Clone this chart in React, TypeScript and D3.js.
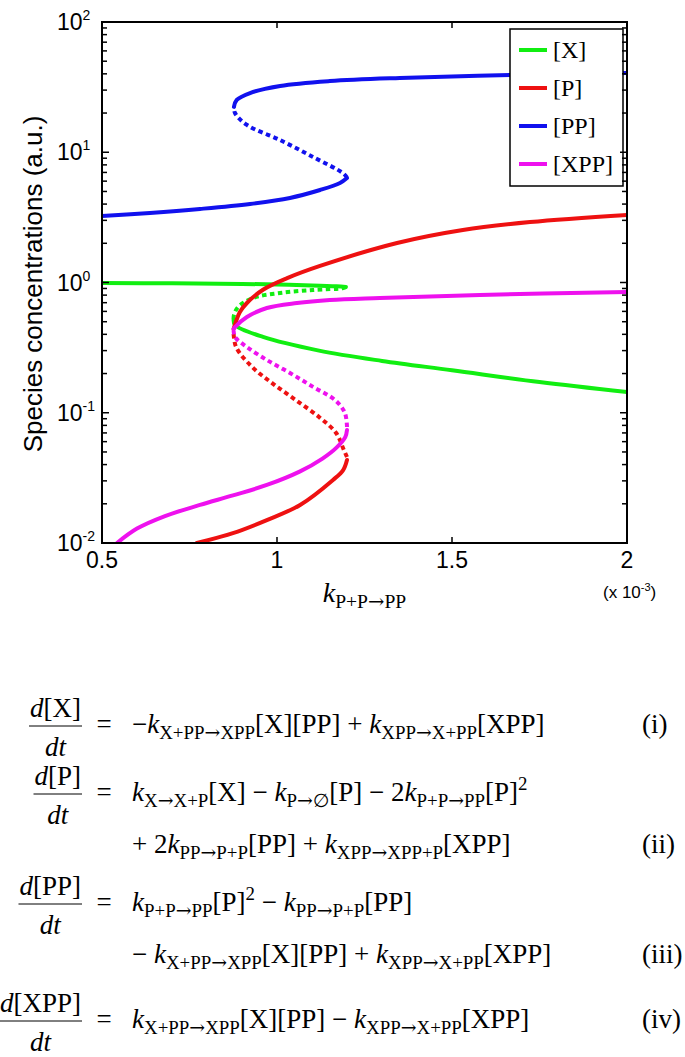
import React, { useEffect, useRef } from "react";
import * as d3 from "d3";

// steady states of the X / P / PP / XPP model vs k_{P+P->PP} (x 10^-3)
const kTicks = [0.5, 1, 1.5, 2];
const kTickLabels = ["0.5", "1", "1.5", "2"];
const decades = [-2, -1, 0, 1, 2];

// [X]  (k, concentration)
const xHigh = [[0.5, 0.99], [0.7, 0.985], [0.9, 0.975], [1.0, 0.965], [1.1, 0.95], [1.17, 0.935], [1.197, 0.925]];
const xMid = [[1.197, 0.925], [1.189, 0.907], [1.103, 0.876], [1.009, 0.831], [0.931, 0.76], [0.889, 0.649], [0.877, 0.563], [0.876, 0.52]];
const xLow = [[0.876, 0.52], [0.88, 0.472], [0.96, 0.382], [1.12, 0.3], [1.3, 0.25], [1.5, 0.212], [1.75, 0.172], [2.0, 0.144]];

// [P]
const pLow = [[0.771, 0.01], [0.874, 0.0119], [0.971, 0.015], [1.066, 0.0196], [1.16, 0.0305], [1.189, 0.0363], [1.2, 0.0434]];
const pMid = [[1.2, 0.0457], [1.191, 0.0518], [1.169, 0.0699], [1.12, 0.0928], [1.054, 0.125], [0.986, 0.169], [0.929, 0.2245], [0.883, 0.32], [0.876, 0.41]];
const pHigh = [[0.876, 0.44], [0.894, 0.594], [0.914, 0.696], [0.96, 0.88], [1.029, 1.08], [1.123, 1.34], [1.343, 2.01], [1.531, 2.53], [1.723, 2.91], [2.0, 3.3]];

// [PP]
const ppLow = [[0.5, 3.24], [0.637, 3.42], [0.78, 3.67], [0.923, 4.01], [1.037, 4.46], [1.123, 5.13], [1.18, 5.81], [1.2, 6.34]];
const ppMid = [[1.2, 6.4], [1.189, 6.9], [1.103, 9.19], [1.009, 12.4], [0.914, 16.2], [0.88, 20.0], [0.877, 22.3]];
const ppHigh = [[0.877, 22.3], [0.885, 25.2], [0.923, 28.5], [1.009, 32.3], [1.151, 35.2], [1.351, 37.2], [1.666, 39.2], [2.0, 40.6]];

// [XPP]
const xppLow = [[0.543, 0.01], [0.6, 0.0129], [0.68, 0.0161], [0.78, 0.0196], [0.874, 0.0232], [0.971, 0.0279], [1.066, 0.0355], [1.13, 0.0445], [1.17, 0.054], [1.195, 0.065], [1.2, 0.0737]];
const xppMid = [[1.2, 0.0777], [1.194, 0.0996], [1.166, 0.125], [1.103, 0.158], [1.037, 0.202], [0.971, 0.254], [0.914, 0.32], [0.88, 0.382], [0.876, 0.43]];
const xppHigh = [[0.876, 0.44], [0.88, 0.455], [0.914, 0.543], [0.971, 0.637], [1.057, 0.696], [1.151, 0.734], [1.294, 0.76], [1.58, 0.802], [2.0, 0.846]];

const seriesNames = ["[X]", "[P]", "[PP]", "[XPP]"];
const seriesColors = ["#11ee11", "#ee1111", "#1111ee", "#ee11ee"];
const branches = [
  [xHigh, xMid, xLow],
  [pLow, pMid, pHigh],
  [ppLow, ppMid, ppHigh],
  [xppLow, xppMid, xppHigh],
];

// model equations (LaTeX-ish: _{} subscript, ^{} superscript)
const eqNumerators = ["d[X]", "d[P]", "d[PP]", "d[XPP]"];
const eqLines = [
  ["−k_{X+PP→XPP}[X][PP] + k_{XPP→X+PP}[XPP]"],
  ["k_{X→X+P}[X] − k_{P→∅}[P] − 2k_{P+P→PP}[P]^{2}", "+ 2k_{PP→P+P}[PP] + k_{XPP→XPP+P}[XPP]"],
  ["k_{P+P→PP}[P]^{2} − k_{PP→P+P}[PP]", "− k_{X+PP→XPP}[X][PP] + k_{XPP→X+PP}[XPP]"],
  ["k_{X+PP→XPP}[X][PP] − k_{XPP→X+PP}[XPP]"],
];
const eqTags = ["(i)", "(ii)", "(iii)", "(iv)"];

const SANS = "Liberation Sans, Arial, Helvetica, sans-serif";
const SERIF = "Liberation Serif, Times New Roman, serif";
const SYMB = "DejaVu Serif, DejaVu Sans, serif";

// write a small math string as tspans
function mathText(g, str, x, y, size, anchor) {
  const t = g
    .append("text")
    .attr("x", x)
    .attr("y", y)
    .attr("font-family", SERIF)
    .attr("font-size", size)
    .attr("text-anchor", anchor)
    .style("white-space", "pre");
  let shift = 0;
  const put = (s, italic, level, fam) => {
    const target = level === "sub" ? size * 0.22 : level === "sup" ? -size * 0.4 : 0;
    const ts = t.append("tspan")
      .attr("dy", target - shift)
      .attr("font-size", level ? size * 0.7 : size)
      .attr("font-style", italic ? "italic" : "normal")
      .text(s);
    if (fam) ts.attr("font-family", fam);
    shift = target;
  };
  // a sub/superscript group, arrows and empty set in a font that draws them well
  const group = (s, level) => {
    s.split(/([→∅])/).forEach((part) => {
      if (!part) return;
      if (part === "→" || part === "∅") put(part, false, level, SYMB);
      else put(part, false, level, null);
    });
  };
  let run = "";
  const flush = () => {
    if (run) put(run, false, null, null);
    run = "";
  };
  let i = 0;
  while (i < str.length) {
    const c = str[i];
    if (c === "_" || c === "^") {
      flush();
      const end = str.indexOf("}", i);
      group(str.slice(i + 2, end), c === "_" ? "sub" : "sup");
      i = end + 1;
    } else if ("kdt".includes(c)) {
      flush();
      put(c, true, null, null);
      i++;
    } else {
      run += c;
      i++;
    }
  }
  flush();
  return t;
}

const App = () => {
  const ref = useRef<SVGSVGElement>(null);

  useEffect(() => {
    const svg = d3.select(ref.current);
    svg.selectAll("*").remove();

    const left = 102, right = 627, top = 22, bottom = 543;
    const x = d3.scaleLinear().domain([0.5, 2]).range([left, right]);
    const y = d3.scaleLog().domain([0.01, 100]).range([bottom, top]);

    svg.append("rect").attr("width", 685).attr("height", 1057).attr("fill", "#fff");

    svg.append("clipPath").attr("id", "plotclip")
      .append("rect").attr("x", left).attr("y", top).attr("width", right - left).attr("height", bottom - top);

    const line = d3.line()
      .x((d) => x(d[0]))
      .y((d) => y(d[1]))
      .curve(d3.curveCatmullRom.alpha(0.5));

    // curves: solid stable branches, dotted unstable middle branch
    const plot = svg.append("g").attr("clip-path", "url(#plotclip)");
    branches.forEach((b, si) => {
      b.forEach((pts, bi) => {
        const dashed = bi === 1;
        plot.append("path")
          .attr("d", line(pts))
          .attr("fill", "none")
          .attr("stroke", seriesColors[si])
          .attr("stroke-width", 4)
          .attr("stroke-linecap", dashed ? "butt" : "round")
          .attr("stroke-dasharray", dashed ? "4.5 3.5" : null);
      });
    });

    // legend
    const lg = svg.append("g");
    lg.append("rect").attr("x", 510).attr("y", 29).attr("width", 113).attr("height", 157)
      .attr("fill", "#fff").attr("stroke", "#000").attr("stroke-width", 1.5);
    seriesNames.forEach((name, i) => {
      const ly = 50 + i * 38;
      lg.append("line").attr("x1", 519).attr("x2", 547).attr("y1", ly).attr("y2", ly)
        .attr("stroke", seriesColors[i]).attr("stroke-width", 4);
      lg.append("text").attr("x", 553).attr("y", ly + 8).attr("font-family", SERIF)
        .attr("font-size", 24).text(name);
    });

    // frame and ticks
    const ax = svg.append("g").attr("stroke", "#000");
    ax.append("rect").attr("x", left).attr("y", top).attr("width", right - left).attr("height", bottom - top)
      .attr("fill", "none").attr("stroke-width", 2);
    decades.forEach((d) => {
      const v = Math.pow(10, d);
      [left, right].forEach((ex) => {
        const s = ex === left ? 1 : -1;
        ax.append("line").attr("x1", ex).attr("x2", ex + s * 7).attr("y1", y(v)).attr("y2", y(v)).attr("stroke-width", 1.5);
        if (d < 2) {
          d3.range(2, 10).forEach((m) => {
            const yy = y(m * v);
            ax.append("line").attr("x1", ex).attr("x2", ex + s * 5).attr("y1", yy).attr("y2", yy).attr("stroke-width", 1.5);
          });
        }
      });
    });
    kTicks.forEach((k) => {
      ax.append("line").attr("x1", x(k)).attr("x2", x(k)).attr("y1", bottom).attr("y2", bottom - 6).attr("stroke-width", 1.5);
      ax.append("line").attr("x1", x(k)).attr("x2", x(k)).attr("y1", top).attr("y2", top + 6).attr("stroke-width", 1.5);
    });

    // tick labels
    decades.forEach((d) => {
      const t = svg.append("text").attr("x", 57).attr("y", y(Math.pow(10, d)) + 8)
        .attr("font-family", SANS).attr("font-size", 23);
      t.append("tspan").text("10");
      t.append("tspan").attr("dy", -10).attr("font-size", 14).text(String(d));
    });
    kTicks.forEach((k, i) => {
      svg.append("text").attr("x", x(k)).attr("y", 568).attr("text-anchor", "middle")
        .attr("font-family", SANS).attr("font-size", 23).text(kTickLabels[i]);
    });
    const mult = svg.append("text").attr("x", 603).attr("y", 598).attr("font-family", SANS).attr("font-size", 17);
    mult.append("tspan").text("(x 10");
    mult.append("tspan").attr("dy", -7).attr("font-size", 11).text("-3");
    mult.append("tspan").attr("dy", 7).text(")");

    // axis titles
    svg.append("text").attr("transform", "translate(42,284) rotate(-90)").attr("text-anchor", "middle")
      .attr("font-family", SANS).attr("font-size", 26).text("Species concentrations (a.u.)");
    mathText(svg, "k_{P+P→PP}", (left + right) / 2, 602, 28, "middle");

    // equations
    const eqAxis = [726, 794, 904, 1021];
    const lhsRight = 82;
    eqNumerators.forEach((num, i) => {
      const a = eqAxis[i];
      const n = mathText(svg, num, 0, a - 9, 27, "start");
      const dn = mathText(svg, "dt", 0, a + 30, 27, "start");
      const wn = n.node().getComputedTextLength();
      const wd = dn.node().getComputedTextLength();
      const w = Math.max(wn, wd) + 2;
      const cx = lhsRight - w / 2;
      n.attr("x", cx - wn / 2);
      dn.attr("x", cx - wd / 2);
      svg.append("line").attr("x1", lhsRight - w).attr("x2", lhsRight).attr("y1", a).attr("y2", a)
        .attr("stroke", "#000").attr("stroke-width", 1);
      svg.append("text").attr("x", 104).attr("y", a + 7).attr("text-anchor", "middle")
        .attr("font-family", SERIF).attr("font-size", 27).text("=");
      eqLines[i].forEach((ln, j) => {
        mathText(svg, ln, 132, a + 7 + j * 52, 27, "start");
      });
      svg.append("text").attr("x", 642).attr("y", a + 7 + (eqLines[i].length - 1) * 52)
        .attr("font-family", SERIF).attr("font-size", 27).text(eqTags[i]);
    });
  }, []);

  return (
    <svg
      ref={ref}
      width={685}
      height={1057}
      style={{ position: "absolute", left: 0, top: 0 }}
    />
  );
};

export default App;
